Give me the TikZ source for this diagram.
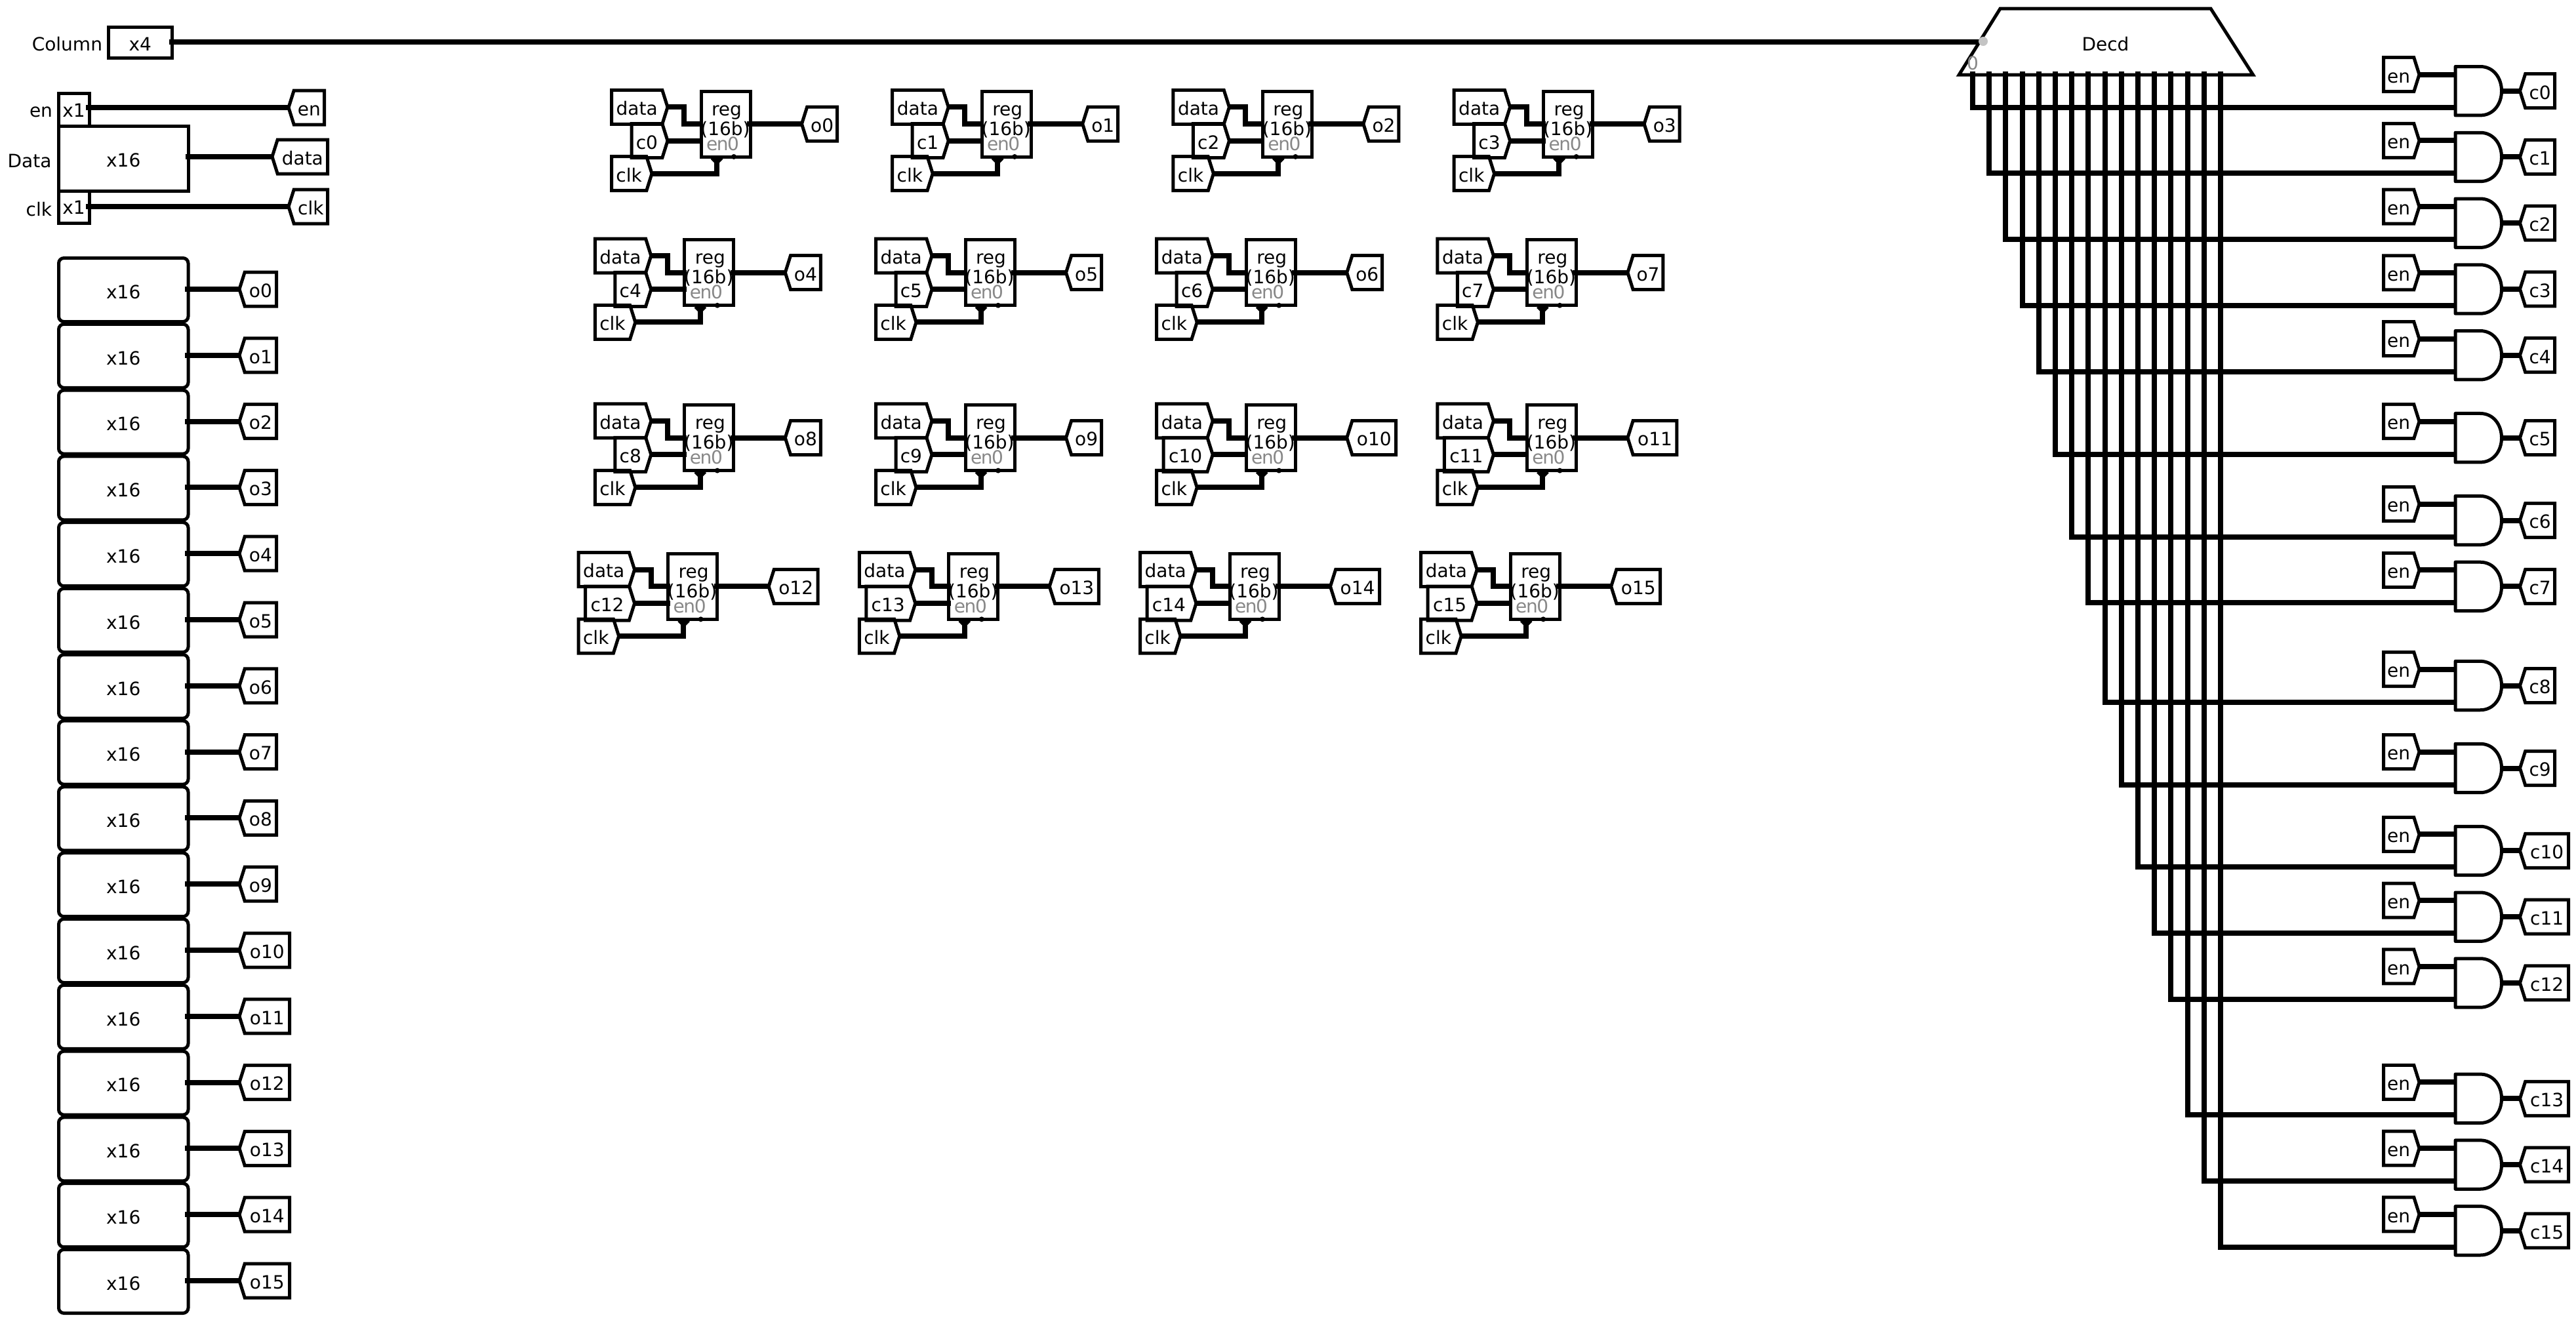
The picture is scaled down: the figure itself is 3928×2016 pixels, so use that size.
\documentclass[tikz,border=0pt]{standalone}
\usepackage{fontspec}
\setmainfont{DejaVu Sans}
\usetikzlibrary{shapes.geometric,shapes.symbols}
\definecolor{pingray}{HTML}{C4C4C4}
\definecolor{labgray}{HTML}{888888}
\tikzset{
  every node/.style={font=\fontsize{28}{30}\selectfont,inner sep=0pt,outer sep=0pt},
  wire/.style={line width=8pt,draw=black},
  pinwire/.style={wire,shorten <=-5pt},
  bx/.style={draw=black,line width=5pt,rectangle,text height=26.6pt,text depth=0pt},
  smallbx/.style={bx,text height=22pt},
  roundbx/.style={bx,rounded corners=8pt},
  regbx/.style={draw=black,line width=5pt,rectangle},
  tagl/.style={draw=black,line width=5pt,signal,signal to=west,signal from=nowhere,signal pointer angle=145,
     minimum height=52pt,anchor=west,text height=24.6pt,text depth=0pt},
  tagr/.style={draw=black,line width=5pt,signal,signal to=east,signal from=nowhere,signal pointer angle=145,
     minimum height=52pt,anchor=east,text height=24.6pt,text depth=0pt},
  lbl/.style={anchor=base east},
  txt/.style={anchor=base},
  grayt/.style={anchor=base,text=labgray},
  gatepath/.style={draw=black,line width=5pt,line join=round},
  dot/.style={circle,fill=black,minimum size=8pt},
  grayd/.style={circle,fill=pingray,minimum size=14pt},
}
\begin{document}
\begin{tikzpicture}[x=1pt,y=-1pt]
\path[use as bounding box,fill=white] (0,0) rectangle (3928,2016);

% Inputs
\node[lbl] (lcol) at (156,77.7) {Column};
\node[bx,minimum width=97.5pt,minimum height=47pt] (x4) at (213.75,64.5) {x4};
\node[lbl] (len) at (80,178) {en};
\node[smallbx,minimum width=47pt,minimum height=50pt] (xen) at (112.5,167) {x1};
\node[lbl] (ldata) at (78.5,255) {Data};
\node[bx,minimum width=198.5pt,minimum height=99pt] (xdata) at (188.25,241.5) {x16};
\node[lbl] (lclk) at (79,329.3) {clk};
\node[smallbx,minimum width=47pt,minimum height=49pt] (xclk) at (112.5,315.5) {x1};
\node[tagl,minimum width=54.5pt] (ten) at (440,164) {en};
\node[tagl,minimum width=84.5pt] (tdata) at (415,239) {data};
\node[tagl,minimum width=59.5pt] (tclk) at (440,315) {clk};
\draw[pinwire] (xen.east |- ten.west) -- (ten.west);
\draw[pinwire] (xdata.east |- tdata.west) -- (tdata.west);
\draw[pinwire] (xclk.east |- tclk.west) -- (tclk.west);

% Decoder
\node[draw=black,line width=5pt,trapezium,trapezium left angle=63.6,trapezium right angle=63,trapezium stretches=true,
  minimum width=451pt,minimum height=101pt,text height=28.4pt,text depth=0pt] (decd) at (3210.5,63.5) {Decd};
\draw[pinwire] (x4.east |- decd.west) -- (decd.west);
\node[grayd] (dpin) at (3024,63) {};
\node[grayt] (dzero) at (3008,106) {0};

% Storage outputs
\foreach \i in {0,...,15}{
  \pgfmathsetmacro{\yy}{441+100.8*\i}
  \pgfmathsetmacro{\ww}{\i<10?56.5:76.5}
  \node[roundbx,minimum width=197.5pt,minimum height=97pt] (s\i) at (188.25,\yy+1) {x16};
  \node[tagl,minimum width=\ww pt] (so\i) at (365,\yy) {o\i};
  \draw[pinwire] (s\i.east |- so\i.west) -- (so\i.west);
}

% Register blocks
\foreach \i in {0,...,15}{
  \pgfmathtruncatemacro{\col}{mod(\i,4)}
  \pgfmathtruncatemacro{\rw}{int(\i/4)}
  \pgfmathsetmacro{\ox}{428.2*\col+{0,-25.2,-25.2,-50.4}[\rw]}
  \pgfmathsetmacro{\oy}{{0,226.7,478.6,705.3}[\rw]}
  \pgfmathsetmacro{\cw}{\i<10?55:75}
  \pgfmathsetmacro{\ow}{\i<10?54:75}
  \begin{scope}[shift={(\ox,\oy)}]
    \node[tagr,minimum width=85.5pt] (d\i) at (1018,163.3) {data};
    \node[tagr,minimum width=\cw pt] (c\i) at (1018,214.7) {c\i};
    \node[tagr,minimum width=61.5pt] (k\i) at (994,264.7) {clk};
    \node[regbx,minimum width=75pt,minimum height=100pt] (r\i) at (1106.5,189) {};
    \node[tagl,minimum width=\ow pt] (o\i) at (1222.5,189) {o\i};
    \draw[wire,shorten >=-3pt] (d\i.east) -| ([xshift=-26pt]r\i.west) -- (r\i.west);
    \draw[wire,shorten >=-3pt] (c\i.east) -- (c\i.east -| r\i.west);
    \draw[pinwire] (r\i.east) -- (o\i.west);
    \draw[wire] (k\i.east) -| ([xshift=-13.8pt]r\i.south);
    \draw[line width=5pt,fill=black] ([xshift=-21pt,yshift=-2pt]r\i.south) -- ([xshift=-13.5pt,yshift=-9.5pt]r\i.south) -- ([xshift=-6pt,yshift=-2pt]r\i.south);
    \node[dot] (rd\i) at ([xshift=12.5pt]r\i.south) {};
    \node[txt] (ra\i) at (1108,176) {reg};
    \node[txt] (rb\i) at (1106,206) {(16b)};
    \node[grayt] (rc\i) at (1102,229) {\addfontfeature{LetterSpace=-5}en0};
  \end{scope}
}

% Decoder fan-out and AND gates
\foreach \i/\u in {0/0,1/4,2/8,3/12,4/16,5/21,6/26,7/30,8/36,9/41,10/46,11/50,12/54,13/61,14/65,15/69}{
  \pgfmathsetmacro{\wy}{163.7+25.19*\u}
  \pgfmathsetmacro{\yc}{\wy-25}
  \pgfmathsetmacro{\xd}{3008+25.2*\i}
  \pgfmathsetmacro{\cw}{\i<10?53:74}
  \coordinate (ds\i) at (\xd,109);
  \coordinate (gb\i) at (3741.5,\yc+25);
  \coordinate (ga\i) at (3741.5,\yc-25);
  \coordinate (go\i) at (3814.5,\yc);
  \draw[gatepath] (3744,\yc-37.2) -- (3782,\yc-37.2) .. controls (3802,\yc-37.2) and (3814.5,\yc-20) .. (go\i)
     .. controls (3814.5,\yc+20) and (3802,\yc+37.2) .. (3782,\yc+37.2) -- (3744,\yc+37.2) -- cycle;
  \node[tagr,minimum width=54.5pt] (e\i) at (3689,\yc-25) {en};
  \node[tagl,minimum width=\cw pt] (oc\i) at (3842.5,\yc) {c\i};
  \draw[wire] (e\i.east) -- (ga\i);
  \draw[wire] (go\i) -- (oc\i.west);
  \draw[wire] (ds\i) |- (gb\i);
}
\end{tikzpicture}
\end{document}
